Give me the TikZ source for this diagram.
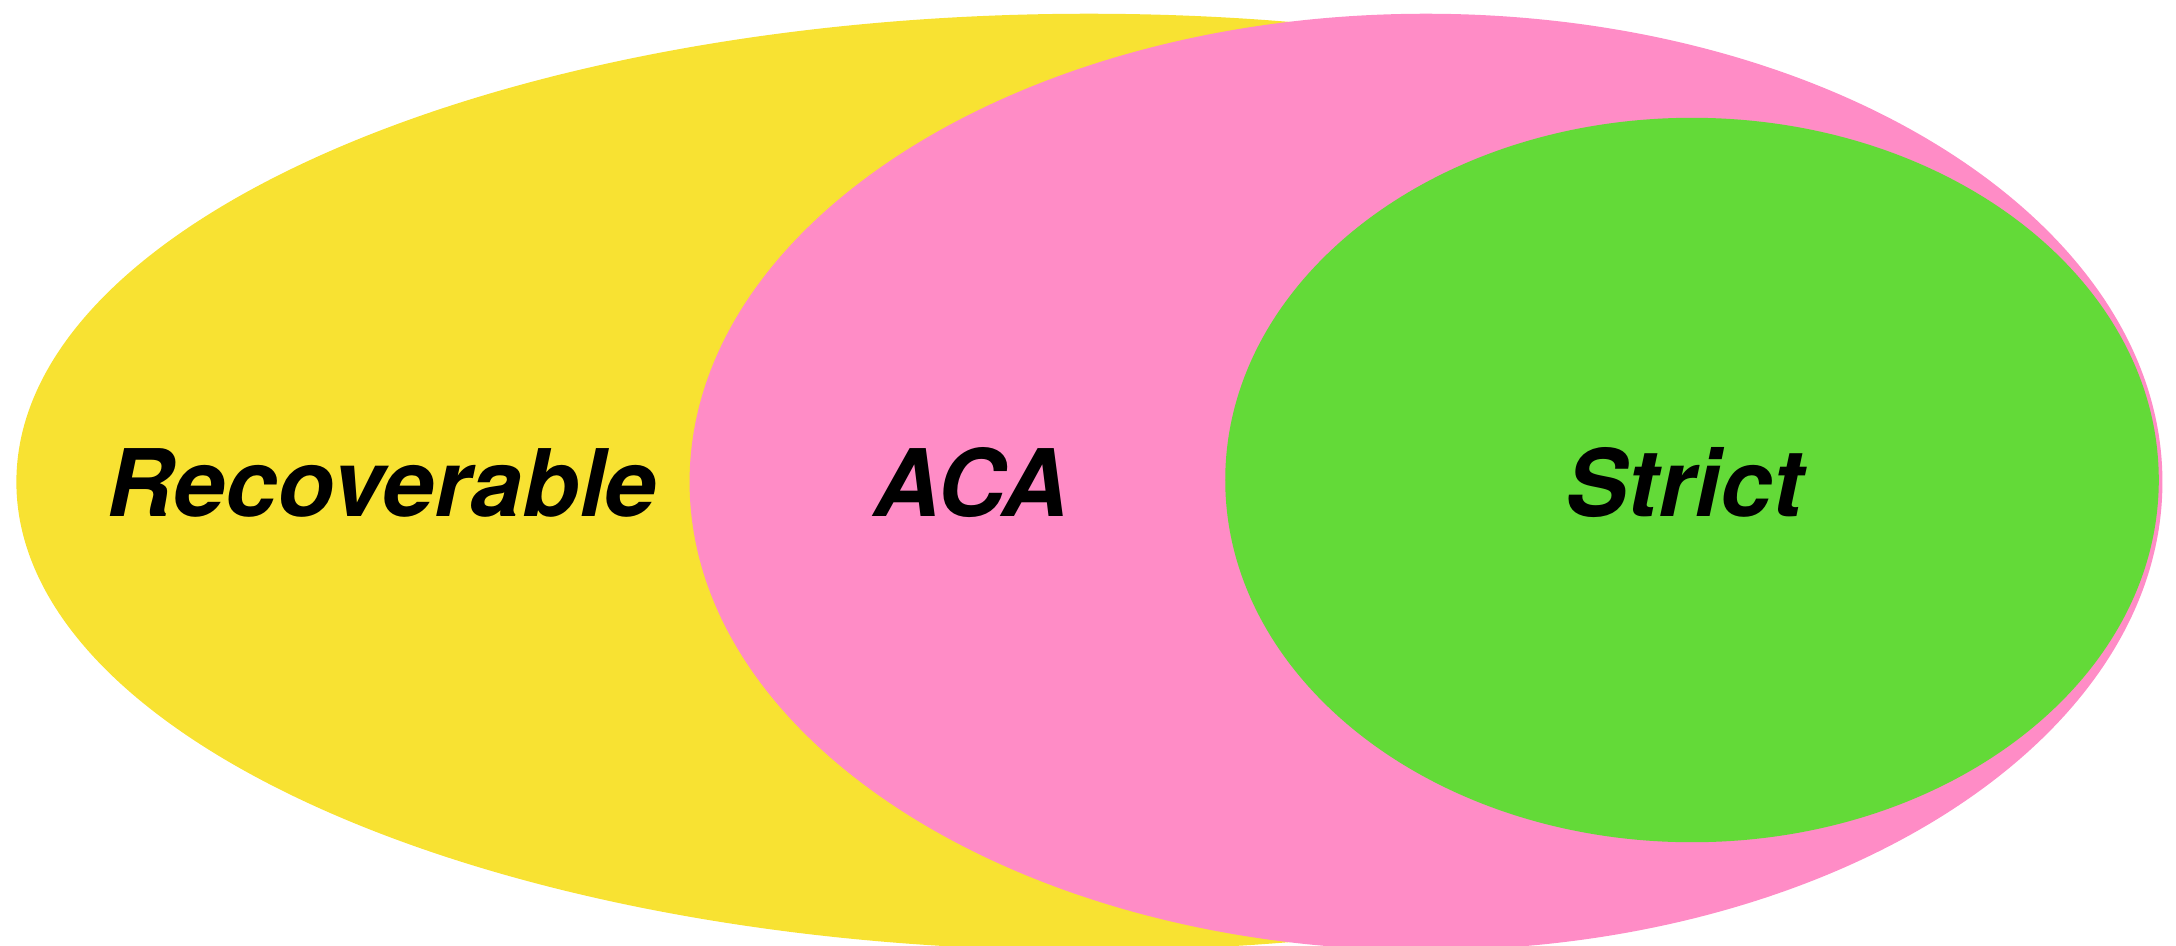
\documentclass[tikz,border=0pt]{standalone}
\usepackage{fontspec}
\setmainfont{TeX Gyre Heros}
\usetikzlibrary{shapes.geometric}
\definecolor{setyellow}{RGB}{248,226,50}
\definecolor{setpink}{RGB}{255,140,198}
\definecolor{setgreen}{RGB}{99,218,56}

\begin{document}
\begin{tikzpicture}[
    x=0.01cm, y=-0.01cm,
    region/.style={ellipse, draw=none, inner sep=0pt},
    setname/.style={font=\fontsize{26.5}{30}\selectfont\bfseries\itshape,
        anchor=base west, inner sep=0pt}
]
\useasboundingbox (0,0) rectangle (2176,945);
\node[region, fill=setyellow, minimum width=21.44cm, minimum height=9.36cm] (recov) at (1089,482) {};
\node[region, fill=setpink, minimum width=14.72cm, minimum height=9.36cm] (aca) at (1426,482) {};
\node[region, fill=setgreen, minimum width=9.33cm, minimum height=7.24cm] (strict) at (1692,480) {};

\node[setname] (recovname) at (106,516) {Recoverable};
\node[setname] (acaname) at (873,516) {ACA};
\node[setname] (strictname) at (1565,516) {Strict};
\end{tikzpicture}
\end{document}
